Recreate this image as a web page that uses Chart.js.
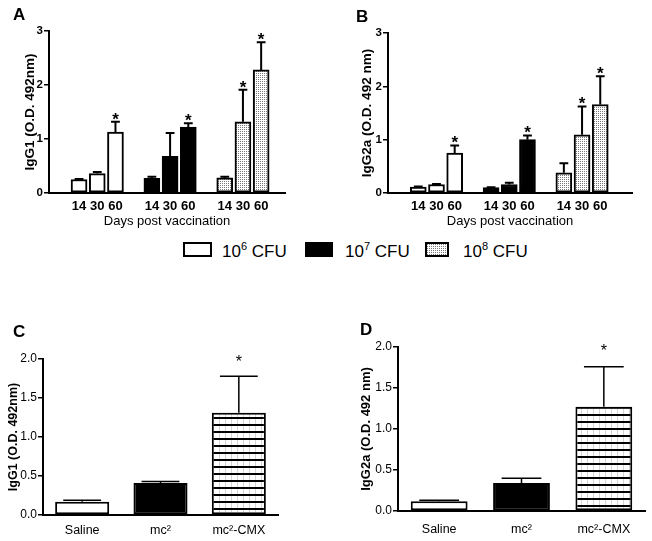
<!DOCTYPE html>
<html>
<head>
<meta charset="utf-8">
<script src="https://cdn.jsdelivr.net/npm/chart.js@4/dist/chart.umd.min.js"></script>
<style>
body { margin: 0; background: #fff; width: 652px; height: 541px; position: relative; overflow: hidden; font-family: "Liberation Sans", Arial, sans-serif; }
canvas { position: absolute; }
.letter { position: absolute; font-weight: bold; font-size: 17px; line-height: 1; z-index: 2; }
.lg { position: absolute; top: 243px; font-size: 17px; line-height: 1; white-space: nowrap; }
.lg sup { font-size: 11px; vertical-align: 7px; line-height: 0; }
.box { position: absolute; top: 242px; height: 15px; box-sizing: border-box; border: 2px solid #000; }
</style>
</head>
<body>
<div class="letter" style="left:13px;top:6px">A</div>
<div class="letter" style="left:356px;top:8px">B</div>
<div class="letter" style="left:13px;top:323px">C</div>
<div class="letter" style="left:360px;top:321px">D</div>

<canvas id="chartA" width="320" height="214" style="left:0;top:15px"></canvas>
<canvas id="chartB" width="326" height="214" style="left:326px;top:15px"></canvas>
<canvas id="chartC" width="326" height="201" style="left:0;top:340px"></canvas>
<canvas id="chartD" width="326" height="211" style="left:326px;top:330px"></canvas>

<div class="box" id="box1" style="left:183px;width:29px;background:#fff"></div>
<div class="lg" style="left:222px">10<sup>6</sup> CFU</div>
<div class="box" id="box2" style="left:305px;width:28px;background:#000"></div>
<div class="lg" style="left:345px">10<sup>7</sup> CFU</div>
<div class="box" id="box3" style="left:425px;width:24px"></div>
<div class="lg" style="left:463px">10<sup>8</sup> CFU</div>

<script>
// days post vaccination, one group per dose
const days = ['14', '30', '60'];
const doses = ['10⁶ CFU', '10⁷ CFU', '10⁸ CFU'];

// A: IgG1
const igg1_d6 = [0.25, 0.36, 1.13];
const igg1_d6_err = [0.01, 0.03, 0.19];
const igg1_d7 = [0.27, 0.68, 1.22];
const igg1_d7_err = [0.03, 0.43, 0.07];
const igg1_d8 = [0.28, 1.32, 2.28];
const igg1_d8_err = [0.02, 0.59, 0.51];
const igg1_stars = [[0, 0, 1], [0, 0, 1], [0, 1, 1]];

// B: IgG2a
const igg2a_d6 = [0.11, 0.16, 0.75];
const igg2a_d6_err = [0.01, 0.01, 0.14];
const igg2a_d7 = [0.10, 0.16, 1.00];
const igg2a_d7_err = [0.01, 0.03, 0.08];
const igg2a_d8 = [0.38, 1.09, 1.66];
const igg2a_d8_err = [0.18, 0.53, 0.53];
const igg2a_stars = [[0, 0, 1], [0, 0, 1], [0, 1, 1]];

// C, D: strains
const strains = ['Saline', 'mc²', 'mc²-CMX'];
const strain_igg1 = [0.17, 0.41, 1.31];
const strain_igg1_err = [0.02, 0.02, 0.47];
const strain_igg2a = [0.12, 0.34, 1.27];
const strain_igg2a_err = [0.01, 0.06, 0.49];
const strain_stars = [0, 0, 1];

const FONT = '"Liberation Sans", Arial, sans-serif';
Chart.defaults.font.family = FONT;
Chart.defaults.color = '#000';
Chart.defaults.animation = false;

function dotPattern() {
    const c = document.createElement('canvas');
    c.width = 2; c.height = 2;
    const g = c.getContext('2d');
    g.fillStyle = '#fff'; g.fillRect(0, 0, 2, 2);
    g.fillStyle = '#7a7a7a'; g.fillRect(0, 0, 1, 1);
    return c;
}
function stripePattern() {
    const c = document.createElement('canvas');
    c.width = 6; c.height = 7;
    const g = c.getContext('2d');
    g.fillStyle = '#fff'; g.fillRect(0, 0, 6, 7);
    g.fillStyle = '#d4d4d4'; g.fillRect(3, 2, 1, 5);
    g.fillStyle = '#000'; g.fillRect(0, 0, 6, 2);
    return c;
}
const dotsCanvas = dotPattern();
const dots = document.createElement('canvas').getContext('2d').createPattern(dotsCanvas, 'repeat');
const stripes = document.createElement('canvas').getContext('2d').createPattern(stripePattern(), 'repeat');
document.getElementById('box3').style.background = 'url(' + dotsCanvas.toDataURL() + ')';

// error bars (upper only) and significance stars
const errorBars = {
    id: 'errorBars',
    afterDatasetsDraw(chart, args, opts) {
        const ctx = chart.ctx;
        const y = chart.scales.y;
        chart.data.datasets.forEach((ds, di) => {
            const meta = chart.getDatasetMeta(di);
            meta.data.forEach((bar, i) => {
                const raw = ds.data[i];
                const val = typeof raw === 'object' ? raw.y : raw;
                const top = y.getPixelForValue(val + ds.err[i]);
                const half = bar.width * opts.cap / 2;
                ctx.save();
                ctx.strokeStyle = '#000';
                ctx.lineWidth = opts.lw;
                ctx.beginPath();
                ctx.moveTo(bar.x, bar.y);
                ctx.lineTo(bar.x, top);
                ctx.moveTo(bar.x - half, top);
                ctx.lineTo(bar.x + half, top);
                ctx.stroke();
                if (ds.stars[i]) {
                    ctx.fillStyle = '#000';
                    ctx.font = opts.starWeight + ' ' + opts.starSize + 'px ' + FONT;
                    ctx.textAlign = 'center';
                    ctx.textBaseline = 'alphabetic';
                    ctx.fillText('*', bar.x, top - opts.starGap + 0.58 * opts.starSize);
                }
                ctx.restore();
            });
        });
    }
};

function timeCourse(id, series, errs, stars, yTitle, lay) {
    const fills = ['#fff', '#000', dots];
    const ticksAt = [];
    const datasets = series.map((vals, g) => {
        vals.forEach((v, i) => ticksAt.push(g * 4 + i));
        return {
            label: doses[g],
            data: vals.map((v, i) => ({ x: g * 4 + i, y: v })),
            err: errs[g],
            stars: stars[g],
            backgroundColor: fills[g],
            borderColor: '#000',
            borderWidth: 2,
            borderSkipped: false,
            barThickness: 16,
            grouped: false
        };
    });
    new Chart(document.getElementById(id), {
        type: 'bar',
        data: { datasets: datasets },
        options: {
            responsive: false,
            layout: { padding: { top: lay.top, right: lay.right, left: 0, bottom: 0 } },
            plugins: {
                legend: { display: false },
                tooltip: { enabled: false },
                errorBars: { cap: 0.55, lw: 2, starSize: 17, starWeight: 'bold', starGap: 7 }
            },
            scales: {
                x: {
                    type: 'linear',
                    min: lay.xMin,
                    max: lay.xMax,
                    afterBuildTicks: s => { s.ticks = ticksAt.map(v => ({ value: v })); },
                    afterFit: s => { s.height = lay.xh; },
                    grid: { display: false, drawTicks: false },
                    border: { color: '#000', width: 2 },
                    ticks: {
                        autoSkip: false, maxRotation: 0, padding: 6,
                        font: { size: 13, weight: 'bold' },
                        callback: v => days[v % 4]
                    },
                    title: { display: true, text: 'Days post vaccination', font: { size: 13 }, padding: { top: 0, bottom: 0 } }
                },
                y: {
                    min: 0, max: 3,
                    afterFit: s => { s.width = lay.yw; },
                    grid: { drawOnChartArea: false, drawTicks: true, tickLength: 5, color: '#000', lineWidth: 1.5 },
                    border: { color: '#000', width: 2 },
                    ticks: { stepSize: 1, padding: 1, font: { size: 11.5, weight: 'bold' } },
                    title: { display: true, text: yTitle, font: { size: 13.5, weight: 'bold' }, padding: { top: lay.tp, bottom: 0 } }
                }
            }
        },
        plugins: [errorBars]
    });
}

function strainChart(id, vals, errs, yTitle, lay) {
    new Chart(document.getElementById(id), {
        type: 'bar',
        data: {
            labels: strains,
            datasets: [{
                data: vals,
                err: errs,
                stars: strain_stars,
                backgroundColor: ['#fff', '#000', stripes],
                borderColor: '#000',
                borderWidth: 2,
                borderSkipped: false,
                categoryPercentage: 1,
                barPercentage: 0.69
            }]
        },
        options: {
            responsive: false,
            layout: { padding: { top: lay.top, right: lay.right, left: 0, bottom: 0 } },
            plugins: {
                legend: { display: false },
                tooltip: { enabled: false },
                errorBars: { cap: 0.7, lw: 1.5, starSize: 16, starWeight: 'normal', starGap: lay.sg }
            },
            scales: {
                x: {
                    afterFit: s => { s.height = lay.xh; },
                    grid: { display: false, drawTicks: false },
                    border: { color: '#000', width: 2 },
                    ticks: { padding: lay.xp, font: { size: 12.5 } }
                },
                y: {
                    min: 0, max: 2,
                    afterFit: s => { s.width = lay.yw; },
                    grid: { drawOnChartArea: false, drawTicks: true, tickLength: 5, color: '#000', lineWidth: 1.5 },
                    border: { color: '#000', width: 2 },
                    ticks: { stepSize: 0.5, padding: 1, font: { size: 12 }, callback: v => v.toFixed(1) },
                    title: { display: true, text: yTitle, font: { size: lay.tf, weight: 'bold' }, padding: { top: lay.tp, bottom: 0 } }
                }
            }
        },
        plugins: [errorBars]
    });
}

timeCourse('chartA', [igg1_d6, igg1_d7, igg1_d8], [igg1_d6_err, igg1_d7_err, igg1_d8_err], igg1_stars,
    'IgG1 (O.D. 492nm)', { top: 16, right: 35, yw: 49, xh: 36, tp: 22, xMin: -0.93, xMax: 10.59 });
timeCourse('chartB', [igg2a_d6, igg2a_d7, igg2a_d8], [igg2a_d6_err, igg2a_d7_err, igg2a_d8_err], igg2a_stars,
    'IgG2a (O.D. 492 nm)', { top: 18, right: 20, yw: 62, xh: 36, tp: 33, xMin: -0.92, xMax: 11.0 });
strainChart('chartC', strain_igg1, strain_igg1_err, 'IgG1 (O.D. 492nm)',
    { top: 19, right: 48, yw: 43, xh: 26, tp: 6, xp: 8, sg: 18, tf: 12.5 });
strainChart('chartD', strain_igg2a, strain_igg2a_err, 'IgG2a (O.D. 492 nm)',
    { top: 17, right: 7, yw: 72, xh: 30, tp: 33, xp: 11, sg: 20, tf: 13 });
</script>
</body>
</html>
